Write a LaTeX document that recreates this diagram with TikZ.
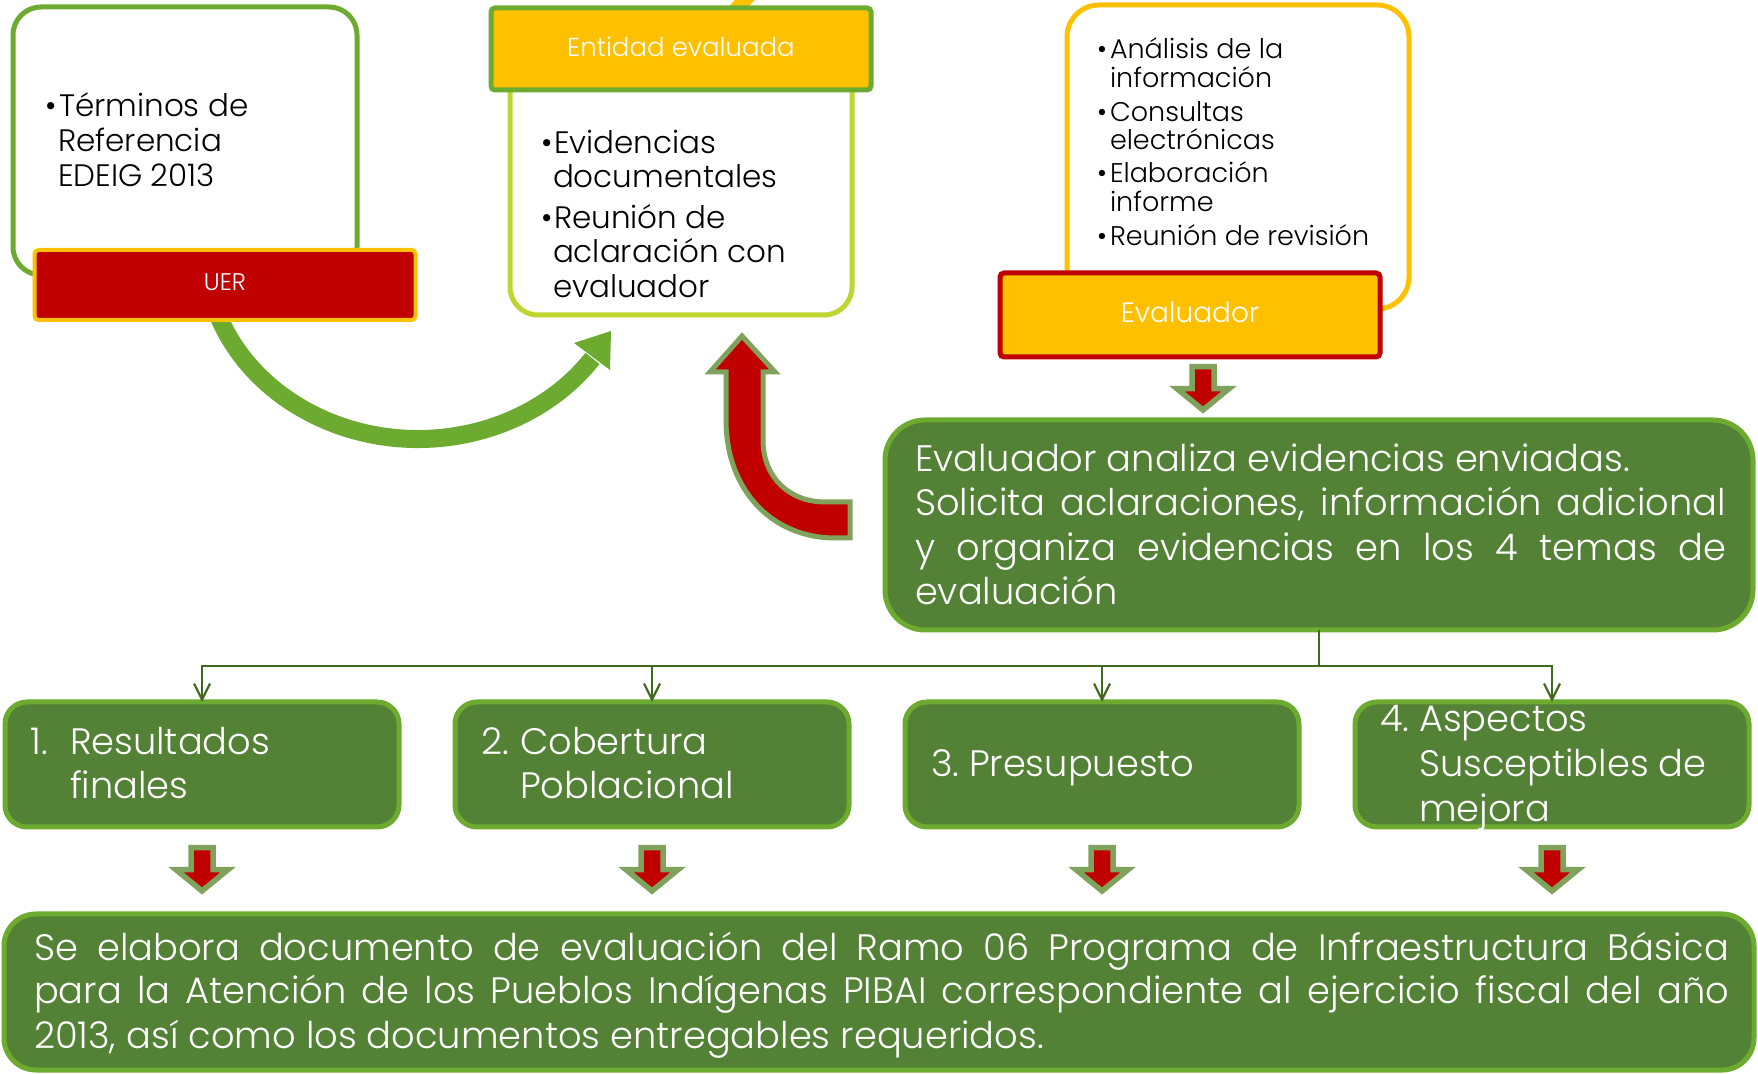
\documentclass[tikz,border=0pt]{standalone}
\usepackage{fontspec}
\setmainfont{Poppins Light}
\usetikzlibrary{arrows.meta}
\definecolor{cGrn}{HTML}{6CAB30}
\definecolor{cDark}{HTML}{538135}
\definecolor{cYel}{HTML}{FFC000}
\definecolor{cRed}{HTML}{C00000}
\definecolor{cLime}{HTML}{BFD630}
\definecolor{cOl}{HTML}{7FA35C}
\definecolor{cTree}{HTML}{41691F}
\newcommand\fzBig{\fontsize{18.4}{22}\selectfont}
\newcommand\fzT{\fontsize{15.5}{18}\selectfont}
\newcommand\fzR{\fontsize{13.5}{16}\selectfont}
\tikzset{
  txt/.style={anchor=base west, inner sep=0pt, outer sep=0pt},
  wtxt/.style={txt, text=white, font=\fzBig},
  btxt/.style={txt, text=black},
  ctr/.style={anchor=base, inner sep=0pt, text=white},
  box/.style={draw, inner sep=0pt, outer sep=0pt},
  gbox/.style={box, fill=cDark, draw=cGrn, line width=2.5pt, rounded corners=11pt},
  tree/.style={draw=cTree, line width=1.1pt, -{Straight Barb[length=8pt,width=8pt,line width=1.1pt]}},
  arrowol/.style={fill=cRed, draw=cOl, line width=2.75pt, line join=miter},
  dnarrow/.pic={\path[arrowol] (-11,2.7) -- (11,2.7) -- (11,24.7) -- (26,24.7) -- (0,46) -- (-26,24.7) -- (-11,24.7) -- cycle;}
}
\begin{document}
\begin{tikzpicture}[x=0.5pt,y=-0.5pt]
\useasboundingbox[fill=white] (0,0) rectangle (1758,1074);
% yellow scrap at the top
\fill[cYel] (735,0) -- (755,0) -- (743,12) -- (724,12) -- cycle;
% green curved arrow
\draw[cGrn, line width=9pt] (418,250) ++(165:213 and 189) arc[start angle=165, end angle=35, x radius=213, y radius=189] coordinate (gend);
\fill[cGrn] (611,331) -- (574,343) -- (610,370) -- cycle;
% left box + UER
\node[box, draw=cGrn, line width=2.5pt, rounded corners=14pt, minimum width=172pt, minimum height=134pt] (term) at (185,141) {};
\node[box, fill=cRed, draw=cYel, line width=2pt, rounded corners=2pt, minimum width=190.5pt, minimum height=35pt] (uer) at (225,285) {};
\node[ctr, font=\fontsize{12}{14}\selectfont] (uerl) at (225,291) {UER};
\node[btxt, font=\fzT] (tb1) at (46,117) {•};
\node[btxt, font=\fzT] (t1a) at (59,117) {Términos de};
\node[btxt, font=\fzT] (t1b) at (58,152) {Referencia};
\node[btxt, font=\fzT] (t1c) at (58,187) {EDEIG 2013};
% Entidad evaluada
\node[box, draw=cLime, line width=2.5pt, rounded corners=14pt, minimum width=171pt, minimum height=128pt] (evid) at (681,187) {};
\node[box, fill=cYel, draw=cGrn, line width=2.5pt, rounded corners=2pt, minimum width=190pt, minimum height=41pt] (ent) at (681,49) {};
\node[ctr, font=\fontsize{13}{15}\selectfont] (entl) at (681,57) {Entidad evaluada};
\node[btxt, font=\fzT] (eb1) at (541,154) {•};
\node[btxt, font=\fzT] (e1a) at (554,154) {Evidencias};
\node[btxt, font=\fzT] (e1b) at (553,188) {documentales};
\node[btxt, font=\fzT] (eb2) at (541,229) {•};
\node[btxt, font=\fzT] (e2a) at (554,229) {Reunión de};
\node[btxt, font=\fzT] (e2b) at (553,263) {aclaración con};
\node[btxt, font=\fzT] (e2c) at (553,298) {evaluador};
% Evaluador
\node[box, draw=cYel, line width=2.5pt, rounded corners=16pt, minimum width=171pt, minimum height=152pt] (anal) at (1238,157) {};
\node[box, fill=cYel, draw=cRed, line width=2.5pt, rounded corners=2pt, minimum width=190pt, minimum height=42pt] (eva) at (1190,315) {};
\node[ctr, font=\fontsize{14}{17}\selectfont] (eval) at (1190,323) {Evaluador};
\node[btxt, font=\fzR] (rb1) at (1097,59) {•};
\node[btxt, font=\fzR] (r1a) at (1110,59) {Análisis de la};
\node[btxt, font=\fzR] (r1b) at (1110,88) {información};
\node[btxt, font=\fzR] (rb2) at (1097,122) {•};
\node[btxt, font=\fzR] (r2a) at (1110,122) {Consultas};
\node[btxt, font=\fzR] (r2b) at (1110,150) {electrónicas};
\node[btxt, font=\fzR] (rb3) at (1097,183) {•};
\node[btxt, font=\fzR] (r3a) at (1110,183) {Elaboración};
\node[btxt, font=\fzR] (r3b) at (1110,212) {informe};
\node[btxt, font=\fzR] (rb4) at (1097,246) {•};
\node[btxt, font=\fzR] (r4a) at (1110,246) {Reunión de revisión};
% red curved arrow
\path[arrowol, line width=2.5pt] (850,538) -- (835,538) .. controls (772,538) and (726,490) .. (726,420) -- (726,372) -- (710,372) -- (742,336) -- (775,372) -- (763,372) -- (763,440) .. controls (763,478) and (790,502) .. (825,502) -- (850,502) -- cycle;
% small arrow under Evaluador
\pic at (1203,364) {dnarrow};
% big analysis box
\node[gbox, rounded corners=20pt, minimum width=434pt, minimum height=105pt] (ana) at (1319,525) {};
\node[wtxt] (a1) at (915,472) {Evaluador analiza evidencias enviadas.};
\node[wtxt] (a2) at (915,516) {\hbox to 405.5pt{Solicita aclaraciones, información adicional}};
\node[wtxt] (a3) at (915,561) {\hbox to 405.5pt{y organiza evidencias en los 4 temas de}};
\node[wtxt] (a4) at (915,605) {evaluación};
% four theme boxes
\node[gbox, minimum width=197pt, minimum height=62.5pt] (b1) at (202,764.5) {};
\node[gbox, minimum width=197pt, minimum height=62.5pt] (b2) at (652,764.5) {};
\node[gbox, minimum width=197pt, minimum height=62.5pt] (b3) at (1102,764.5) {};
\node[gbox, minimum width=197pt, minimum height=62.5pt] (b4) at (1552,764.5) {};
\draw[tree] (ana.south) -- ++(0,36) -| (b1.north);
\draw[tree] (ana.south) -- ++(0,36) -| (b2.north);
\draw[tree] (ana.south) -- ++(0,36) -| (b3.north);
\draw[tree] (ana.south) -- ++(0,36) -| (b4.north);
\node[wtxt] (n1) at (31,755) {1.};
\node[wtxt] (b1a) at (70,755) {Resultados};
\node[wtxt] (b1b) at (70,799) {finales};
\node[wtxt] (n2) at (481,755) {2.};
\node[wtxt] (b2a) at (520,755) {Cobertura};
\node[wtxt] (b2b) at (520,799) {Poblacional};
\node[wtxt] (n3) at (931,777) {3.};
\node[wtxt] (b3a) at (969,777) {Presupuesto};
\node[wtxt] (n4) at (1380,732) {4.};
\node[wtxt] (b4a) at (1419,732) {Aspectos};
\node[wtxt] (b4b) at (1419,777) {Susceptibles de};
\node[wtxt] (b4c) at (1419,822) {mejora};
% small arrows to the final box
\pic at (202,845) {dnarrow};
\pic at (652,845) {dnarrow};
\pic at (1102,845) {dnarrow};
\pic at (1552,845) {dnarrow};
% final box
\node[gbox, rounded corners=16pt, minimum width=875pt, minimum height=78pt] (fin) at (879,992) {};
\node[wtxt] (f1) at (34,960) {\hbox to 847.5pt{Se elabora documento de evaluación del Ramo 06 Programa de Infraestructura Básica}};
\node[wtxt] (f2) at (34,1003) {\hbox to 847.5pt{para la Atención de los Pueblos Indígenas PIBAI correspondiente al ejercicio fiscal del año}};
\node[wtxt] (f3) at (34,1048) {2013, así como los documentos entregables requeridos.};
\end{tikzpicture}
\end{document}
